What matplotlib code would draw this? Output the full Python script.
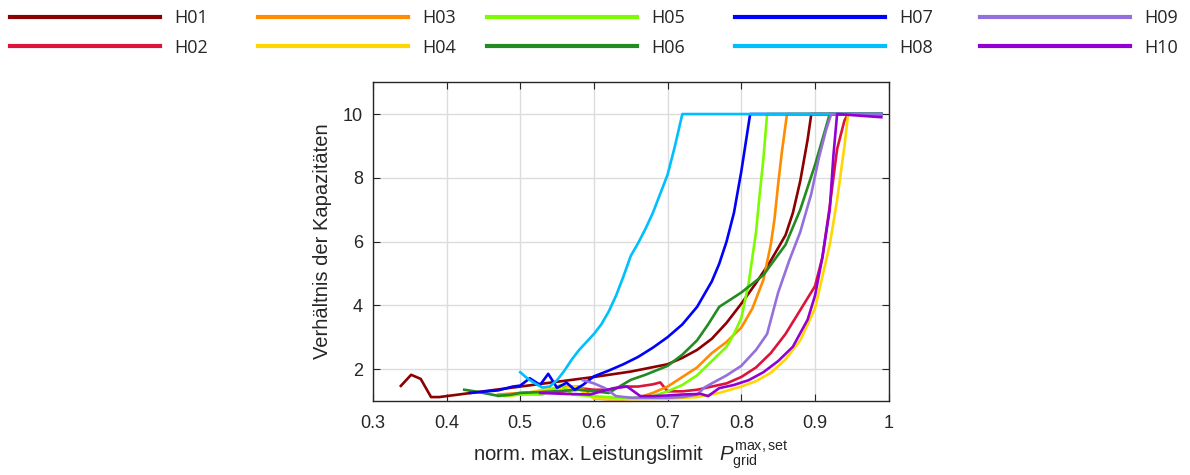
import matplotlib
matplotlib.use("Agg")
import matplotlib.pyplot as plt
from matplotlib.lines import Line2D

plt.rcParams['font.family'] = ['Liberation Sans', 'DejaVu Sans']
plt.rcParams['mathtext.fontset'] = 'custom'
plt.rcParams['mathtext.rm'] = 'Liberation Sans'
plt.rcParams['mathtext.it'] = 'Liberation Sans:italic'

labels = ['H01', 'H02', 'H03', 'H04', 'H05', 'H06', 'H07', 'H08', 'H09', 'H10']
colors = ['#8B0000', '#DC143C', '#FF8C00', '#FFD700', '#7CFC00',
          '#228B22', '#0000FF', '#00BFFF', '#9370DB', '#9400D3']

x_h01 = [0.338, 0.352, 0.365, 0.379, 0.39, 0.40, 0.45, 0.50, 0.55, 0.60, 0.65, 0.70, 0.72, 0.74,
         0.76, 0.78, 0.80, 0.82, 0.84, 0.86, 0.87, 0.88, 0.89, 0.895, 0.99]
y_h01 = [1.47, 1.82, 1.69, 1.12, 1.12, 1.15, 1.3, 1.45, 1.6, 1.75, 1.92, 2.15, 2.35, 2.6,
         2.95, 3.45, 4.05, 4.7, 5.4, 6.2, 6.9, 7.9, 9.2, 10.0, 10.0]

x_h02 = [0.53, 0.56, 0.58, 0.60, 0.62, 0.64, 0.66, 0.68, 0.69, 0.70, 0.72, 0.74, 0.76, 0.78,
         0.80, 0.82, 0.84, 0.86, 0.88, 0.90, 0.91, 0.92, 0.93, 0.94, 0.945, 0.99]
y_h02 = [1.25, 1.3, 1.4, 1.35, 1.35, 1.45, 1.45, 1.52, 1.58, 1.3, 1.3, 1.35, 1.45, 1.55,
         1.75, 2.05, 2.5, 3.1, 3.85, 4.6, 5.5, 7.1, 8.9, 9.8, 10.0, 10.0]

x_h03 = [0.47, 0.50, 0.53, 0.56, 0.58, 0.59, 0.60, 0.62, 0.64, 0.66, 0.68, 0.70, 0.72, 0.74,
         0.76, 0.78, 0.80, 0.815, 0.83, 0.84, 0.845, 0.85, 0.855, 0.862, 0.99]
y_h03 = [1.2, 1.25, 1.3, 1.45, 1.45, 1.3, 1.08, 1.05, 1.05, 1.1, 1.25, 1.45, 1.75, 2.05,
         2.5, 2.85, 3.3, 3.9, 4.8, 5.9, 6.7, 7.8, 8.8, 10.0, 10.0]

x_h04 = [0.48, 0.50, 0.52, 0.54, 0.56, 0.575, 0.59, 0.60, 0.65, 0.70, 0.74, 0.77, 0.80, 0.82,
         0.84, 0.86, 0.88, 0.90, 0.91, 0.92, 0.93, 0.94, 0.945, 0.99]
y_h04 = [1.15, 1.2, 1.3, 1.4, 1.4, 1.45, 1.2, 1.08, 1.05, 1.07, 1.12, 1.25, 1.45, 1.62,
         1.88, 2.3, 2.9, 3.9, 4.9, 5.9, 7.3, 9.0, 10.0, 10.0]

x_h05 = [0.47, 0.50, 0.53, 0.555, 0.57, 0.60, 0.63, 0.66, 0.68, 0.70, 0.72, 0.74, 0.76, 0.78,
         0.79, 0.80, 0.81, 0.82, 0.825, 0.83, 0.835, 0.99]
y_h05 = [1.15, 1.2, 1.2, 1.5, 1.2, 1.15, 1.1, 1.1, 1.15, 1.3, 1.5, 1.8, 2.25, 2.7,
         3.1, 3.6, 4.7, 6.3, 7.5, 8.6, 10.0, 10.0]

x_h06 = [0.424, 0.441, 0.47, 0.486, 0.50, 0.54, 0.58, 0.62, 0.65, 0.67, 0.70, 0.72, 0.74,
         0.755, 0.77, 0.80, 0.83, 0.86, 0.88, 0.90, 0.92, 0.99]
y_h06 = [1.35, 1.29, 1.16, 1.19, 1.25, 1.29, 1.35, 1.25, 1.66, 1.82, 2.1, 2.45, 2.9,
         3.4, 3.95, 4.4, 4.95, 5.9, 7.0, 8.4, 10.0, 10.0]

x_h07 = [0.432, 0.45, 0.47, 0.49, 0.50, 0.513, 0.527, 0.538, 0.55, 0.563, 0.574, 0.585, 0.60,
         0.62, 0.64, 0.66, 0.68, 0.70, 0.72, 0.74, 0.76, 0.77, 0.78, 0.79, 0.80, 0.812, 0.99]
y_h07 = [1.25, 1.29, 1.33, 1.45, 1.48, 1.71, 1.5, 1.85, 1.41, 1.57, 1.35, 1.5, 1.77,
         1.95, 2.15, 2.38, 2.67, 3.0, 3.4, 3.95, 4.75, 5.3, 6.0, 6.9, 8.2, 10.0, 10.0]

x_h08 = [0.50, 0.51, 0.52, 0.53, 0.54, 0.55, 0.56, 0.57, 0.58, 0.59, 0.60, 0.61, 0.62, 0.63,
         0.64, 0.65, 0.66, 0.67, 0.68, 0.69, 0.70, 0.71, 0.72, 0.99]
y_h08 = [1.9, 1.7, 1.55, 1.42, 1.45, 1.65, 1.95, 2.3, 2.6, 2.85, 3.1, 3.4, 3.8, 4.3,
         4.9, 5.55, 5.95, 6.4, 6.9, 7.5, 8.1, 9.0, 10.0, 10.0]

x_h09 = [0.585, 0.60, 0.615, 0.63, 0.65, 0.68, 0.70, 0.72, 0.74, 0.75, 0.76, 0.78, 0.80,
         0.82, 0.835, 0.85, 0.865, 0.88, 0.895, 0.905, 0.915, 0.922, 0.99]
y_h09 = [1.65, 1.55, 1.4, 1.15, 1.1, 1.1, 1.1, 1.12, 1.2, 1.42, 1.55, 1.8, 2.1,
         2.6, 3.1, 4.4, 5.4, 6.3, 7.5, 8.6, 9.5, 10.0, 10.0]

x_h10 = [0.527, 0.56, 0.595, 0.61, 0.627, 0.645, 0.663, 0.68, 0.70, 0.72, 0.745, 0.755,
         0.77, 0.79, 0.81, 0.83, 0.85, 0.87, 0.89, 0.90, 0.91, 0.92, 0.925, 0.93, 0.99]
y_h10 = [1.25, 1.22, 1.2, 1.3, 1.4, 1.45, 1.15, 1.15, 1.17, 1.2, 1.22, 1.15,
         1.4, 1.5, 1.65, 1.9, 2.25, 2.7, 3.55, 4.3, 5.5, 7.0, 8.7, 10.0, 9.9]

xs = [x_h01, x_h02, x_h03, x_h04, x_h05, x_h06, x_h07, x_h08, x_h09, x_h10]
ys = [y_h01, y_h02, y_h03, y_h04, y_h05, y_h06, y_h07, y_h08, y_h09, y_h10]

xticks = [0.3, 0.4, 0.5, 0.6, 0.7, 0.8, 0.9, 1.0]
xticklabels = ['0.3', '0.4', '0.5', '0.6', '0.7', '0.8', '0.9', '1']
yticks = [2, 4, 6, 8, 10]

W, H = 1190, 475
fig = plt.figure(figsize=(W / 100, H / 100), dpi=100)
ax = fig.add_axes([0.3133, 0.156, 0.4335, 0.671])

for x, y, c in zip(xs, ys, colors):
    ax.plot(x, y, color=c, lw=1.9)

ax.set_xlim(0.3, 1.0)
ax.set_ylim(1, 11)
ax.set_xticks(xticks)
ax.set_xticklabels(xticklabels)
ax.set_yticks(yticks)
ax.grid(True, color='#dcdcdc', lw=1.0)
ax.set_axisbelow(True)
dark = '#262626'
for s in ax.spines.values():
    s.set_color(dark)
    s.set_linewidth(1.0)
ax.tick_params(direction='in', top=True, right=True, labelsize=13, colors=dark,
               length=5)
ax.tick_params(axis='x', pad=10)
ax.tick_params(axis='y', pad=7)
ax.set_xlabel(r'norm. max. Leistungslimit $\ \ P_{\mathrm{grid}}^{\mathrm{max,set}}$',
              fontsize=14.6, color=dark, labelpad=6)
ax.set_ylabel('Verhältnis der Kapazitäten', fontsize=14.5, color=dark, labelpad=8)

# legend: five columns of two entries each
col_x = [10, 258, 487, 735, 980]
handles = [Line2D([], [], color=c, lw=3.0) for c in colors]
for i, cx in enumerate(col_x):
    fig.legend(handles[2 * i:2 * i + 2], labels[2 * i:2 * i + 2], loc='upper left',
               bbox_to_anchor=(cx / W, 1 - 9 / H), frameon=False,
               prop={'family': 'Open Sans', 'size': 13}, labelcolor=dark,
               handlelength=8.3, handletextpad=0.8,
               labelspacing=0.65, borderpad=0, borderaxespad=0)

fig.savefig('out.png', dpi=100)
